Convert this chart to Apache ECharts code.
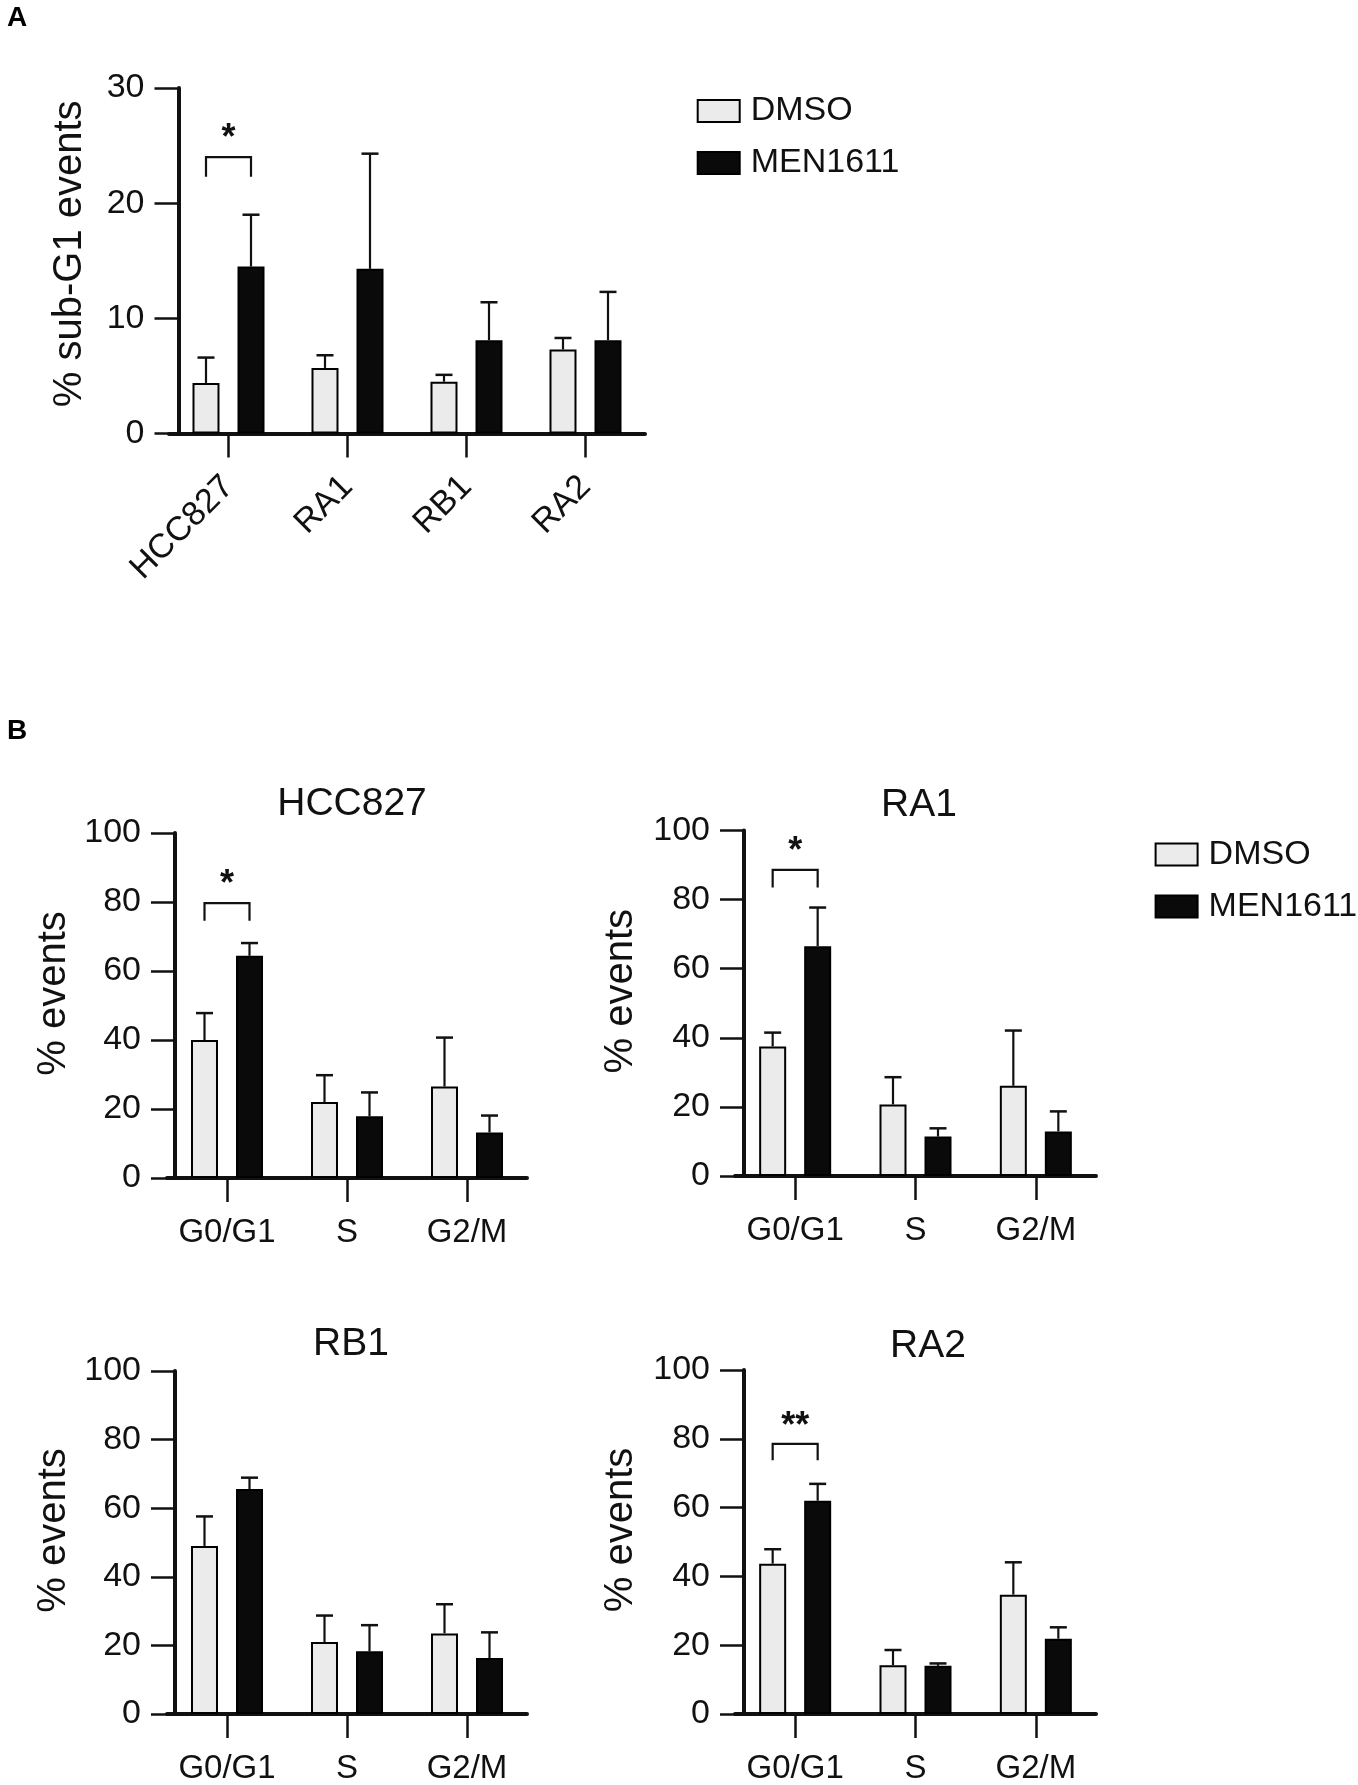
<!DOCTYPE html>
<html><head><meta charset="utf-8">
<script src="https://cdn.jsdelivr.net/npm/echarts@6/dist/echarts.min.js"></script>
<style>html,body{margin:0;padding:0;background:#fff}#c{width:1358px;height:1785px}</style>
</head><body><div id="c"></div>
<script>
// ---------- data ----------
const cellLines = ['HCC827', 'RA1', 'RB1', 'RA2'];
const phases = ['G0/G1', 'S', 'G2/M'];
const seriesNames = ['DMSO', 'MEN1611'];
const panelLetters = ['A', 'B'];

// Panel A: % sub-G1 events
const subG1Dmso    = [4.4, 5.7, 4.5, 7.3];
const subG1DmsoErr = [2.2, 1.1, 0.6, 1.0];
const subG1Men     = [14.5, 14.3, 8.1, 8.1];
const subG1MenErr  = [4.5, 10.0, 3.3, 4.2];

// Panel B: cell cycle phases (% events)
const hccDmso    = [40.0, 22.0, 26.5];
const hccDmsoErr = [7.8, 7.8, 14.2];
const hccMen     = [64.4, 17.9, 13.2];
const hccMenErr  = [3.7, 6.9, 4.9];

const ra1Dmso    = [37.5, 20.7, 26.1];
const ra1DmsoErr = [4.0, 7.9, 16.0];
const ra1Men     = [66.5, 11.4, 12.9];
const ra1MenErr  = [11.2, 2.4, 5.8];

const rb1Dmso    = [49.0, 21.0, 23.5];
const rb1DmsoErr = [8.6, 7.7, 8.5];
const rb1Men     = [65.6, 18.3, 16.3];
const rb1MenErr  = [3.3, 7.6, 7.5];

const ra2Dmso    = [43.7, 14.2, 34.7];
const ra2DmsoErr = [4.2, 4.4, 9.4];
const ra2Men     = [62.0, 14.0, 21.9];
const ra2MenErr  = [4.9, 0.7, 3.3];

// significance brackets: [category index, bracket top, leg bottom, mark level], mark text
const sigA   = [[0, 24.0, 22.3, 26.3]];  const sigAText = ['*'];
const sigHcc = [[0, 79.7, 74.6, 87.3]];  const sigHccText = ['*'];
const sigRa1 = [[0, 88.6, 83.5, 96.1]];  const sigRa1Text = ['*'];
const sigRb1 = [];                       const sigRb1Text = [];
const sigRa2 = [[0, 78.5, 73.8, 85.6]];  const sigRa2Text = ['**'];

const subG1Ticks = { min: 0, max: 30, interval: 10 };
const phaseTicks = { min: 0, max: 100, interval: 20 };

// ---------- styling ----------
const FONT = "'Liberation Sans', Arial, Helvetica, sans-serif";
const INK = '#111';
const BAR_W = 27, BAR_GAP = '66.7%';
const HALF = (27 + 18) / 2;  // half distance between the two bar centres
const CAP = 17;

const panels = [
  { key: 'A', cats: cellLines, ticks: subG1Ticks, name: '% sub-G1 events',
    grid: { left: 169, top: 88, width: 476, height: 345.6 }, yOff: -9.5, nameGap: 89, namePad: 14,
    rotate: 45, labelMargin: 48, labelPad: [22, 0, 0, 0],
    dmso: subG1Dmso, dmsoErr: subG1DmsoErr, men: subG1Men, menErr: subG1MenErr, sig: sigA, sigText: sigAText },
  { key: 'HCC827', cats: phases, ticks: phaseTicks, name: '% events',
    grid: { left: 167, top: 833, width: 360, height: 345 }, yOff: -8, nameGap: 101, namePad: 24,
    rotate: 0, labelMargin: 38, labelPad: 0, title: { x: 347, y: 801.7 },
    dmso: hccDmso, dmsoErr: hccDmsoErr, men: hccMen, menErr: hccMenErr, sig: sigHcc, sigText: sigHccText },
  { key: 'RA1', cats: phases, ticks: phaseTicks, name: '% events',
    grid: { left: 735, top: 830.5, width: 361, height: 345.5 }, yOff: -9, nameGap: 103, namePad: 24,
    rotate: 0, labelMargin: 38, labelPad: 0, title: { x: 914, y: 803 },
    dmso: ra1Dmso, dmsoErr: ra1DmsoErr, men: ra1Men, menErr: ra1MenErr, sig: sigRa1, sigText: sigRa1Text },
  { key: 'RB1', cats: phases, ticks: phaseTicks, name: '% events',
    grid: { left: 167, top: 1371, width: 360, height: 345.6 }, yOff: -8, nameGap: 101, namePad: 24,
    rotate: 0, labelMargin: 38, labelPad: 0, title: { x: 346, y: 1342 },
    dmso: rb1Dmso, dmsoErr: rb1DmsoErr, men: rb1Men, menErr: rb1MenErr, sig: sigRb1, sigText: sigRb1Text },
  { key: 'RA2', cats: phases, ticks: phaseTicks, name: '% events',
    grid: { left: 735, top: 1370, width: 361, height: 345.6 }, yOff: -9, nameGap: 103, namePad: 24,
    rotate: 0, labelMargin: 38, labelPad: 0, title: { x: 923, y: 1344 },
    dmso: ra2Dmso, dmsoErr: ra2DmsoErr, men: ra2Men, menErr: ra2MenErr, sig: sigRa2, sigText: sigRa2Text }
];

function errRender(params, api) {
  const c = api.value(0), v = api.value(1), e = api.value(2), side = api.value(3);
  const base = api.coord([c, v]);
  const top = api.coord([c, v + e]);
  const x = base[0] + side * HALF;
  return { type: 'group', children: [
    { type: 'line', shape: { x1: x, y1: base[1], x2: x, y2: top[1] }, style: { stroke: INK, lineWidth: 2.2 } },
    { type: 'line', shape: { x1: x - CAP / 2, y1: top[1], x2: x + CAP / 2, y2: top[1] }, style: { stroke: INK, lineWidth: 2.5 } }
  ]};
}

function sigRenderFactory(texts) {
  return function (params, api) {
    const c = api.value(0);
    const pTop = api.coord([c, api.value(1)]);
    const pLeg = api.coord([c, api.value(2)]);
    const pMark = api.coord([c, api.value(3)]);
    const xl = pTop[0] - HALF, xr = pTop[0] + HALF;
    return { type: 'group', children: [
      { type: 'polyline', shape: { points: [[xl, pLeg[1]], [xl, pTop[1]], [xr, pTop[1]], [xr, pLeg[1]]] },
        style: { stroke: INK, lineWidth: 2.2, fill: null } },
      { type: 'text', x: pMark[0], y: pMark[1] + 8,
        style: { text: texts[params.dataIndex], fontSize: 36, fontWeight: 'bold', fontFamily: FONT,
                 fill: INK, align: 'center', verticalAlign: 'middle' } }
    ]};
  };
}

const grids = [], xAxes = [], yAxes = [], series = [], titles = [];

panels.forEach((p, i) => {
  grids.push(Object.assign({ containLabel: false }, p.grid));
  xAxes.push({
    type: 'category', gridIndex: i, data: p.cats, position: 'bottom',
    axisLine: { show: true, lineStyle: { color: INK, width: 4 } },
    axisTick: { show: true, alignWithLabel: true, length: 24, lineStyle: { color: INK, width: 2.5 } },
    axisLabel: { show: true, rotate: p.rotate, margin: p.labelMargin, fontSize: p.rotate ? 34 : 33,
                 padding: p.labelPad, color: INK, fontFamily: FONT, interval: 0 },
    splitLine: { show: false }
  });
  yAxes.push({
    type: 'value', gridIndex: i, min: p.ticks.min, max: p.ticks.max, interval: p.ticks.interval,
    offset: p.yOff, position: 'left',
    name: p.name, nameLocation: 'middle', nameGap: p.nameGap,
    nameTextStyle: { fontSize: 40, color: INK, fontFamily: FONT, padding: [0, 0, 0, p.namePad] },
    axisLine: { show: true, lineStyle: { color: INK, width: 4 } },
    axisTick: { show: true, length: 24, lineStyle: { color: INK, width: 2.5 } },
    axisLabel: { show: true, margin: 34, fontSize: 34, color: INK, fontFamily: FONT },
    splitLine: { show: false }
  });
  if (p.title) {
    titles.push({ text: p.key, left: p.title.x, top: p.title.y - 22, textAlign: 'center',
      textStyle: { fontSize: 39, fontWeight: 'normal', color: INK, fontFamily: FONT } });
  }
  series.push({
    name: 'DMSO', type: 'bar', xAxisIndex: i, yAxisIndex: i, data: p.dmso,
    barWidth: BAR_W, barGap: BAR_GAP,
    itemStyle: { color: '#eaebea', borderColor: '#000', borderWidth: 2, borderRadius: 0 }, z: 2
  });
  series.push({
    name: 'MEN1611', type: 'bar', xAxisIndex: i, yAxisIndex: i, data: p.men,
    barWidth: BAR_W, barGap: BAR_GAP,
    itemStyle: { color: '#0a0a0a', borderColor: '#000', borderWidth: 2, borderRadius: 0 }, z: 2
  });
  const errData = [];
  p.dmso.forEach((v, k) => errData.push([k, v, p.dmsoErr[k], -1]));
  p.men.forEach((v, k) => errData.push([k, v, p.menErr[k], 1]));
  series.push({
    type: 'custom', xAxisIndex: i, yAxisIndex: i, renderItem: errRender, data: errData, z: 3,
    silent: true, encode: { x: 0, y: 1 }
  });
  if (p.sig.length) {
    series.push({
      type: 'custom', xAxisIndex: i, yAxisIndex: i, renderItem: sigRenderFactory(p.sigText),
      data: p.sig, z: 4, silent: true, encode: { x: 0, y: 1 }
    });
  }
});

const legendCommon = {
  orient: 'vertical', data: seriesNames, icon: 'rect', itemWidth: 42, itemHeight: 22, itemGap: 18,
  itemStyle: { borderRadius: 0 },
  textStyle: { fontSize: 34, lineHeight: 34, color: INK, fontFamily: FONT, padding: [0, 0, 0, 6] },
  selectedMode: false
};

const letterTops = [4, 717];
const option = {
  animation: false,
  backgroundColor: '#fff',
  textStyle: { fontFamily: FONT },
  title: titles,
  graphic: panelLetters.map((t, k) => ({
    type: 'text', left: 7, top: letterTops[k], z: 10,
    style: { text: t, font: "bold 28px 'Liberation Sans', Arial, sans-serif", fill: '#000' }
  })),
  legend: [
    Object.assign({ left: 691.7, top: 89 }, legendCommon),
    Object.assign({ left: 1149.6, top: 832.6 }, legendCommon)
  ],
  grid: grids, xAxis: xAxes, yAxis: yAxes, series: series
};

const chart = echarts.init(document.getElementById('c'), null, { renderer: 'canvas' });
chart.setOption(option);
</script>
</body></html>
